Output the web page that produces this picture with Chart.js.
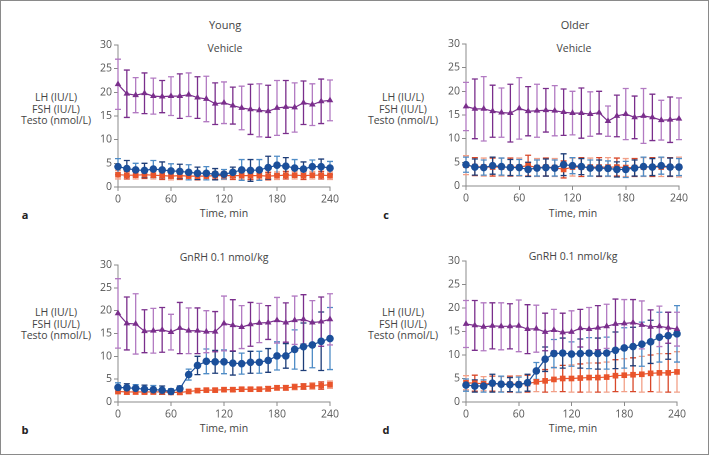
<!DOCTYPE html>
<html>
<head>
<meta charset="utf-8">
<script src="https://cdn.jsdelivr.net/npm/chart.js@4"></script>
<style>
  body { margin: 0; background: #fff; }
  #page { position: relative; width: 709px; height: 455px; box-sizing: border-box; border: 1px solid #8a8a8a; overflow: hidden;
          font-family: "Open Sans", "Noto Sans", sans-serif; color: #444; }
  canvas { position: absolute; }
  .txt { position: absolute; font-size: 10.5px; white-space: nowrap; transform: translate(-50%, -50%); line-height: 11.5px; text-align: center; }
  .letter { position: absolute; font-size: 11px; font-weight: bold; color: #222; transform: translate(-50%, -50%); }
</style>
</head>
<body>
<div id="page">
  <div class="txt" style="left:224px;top:24px;font-size:11px">Young</div>
  <div class="txt" style="left:574px;top:24px;font-size:11px">Older</div>

  <div class="txt" style="left:224px;top:48px">Vehicle</div>
  <div class="txt" style="left:573px;top:48px">Vehicle</div>
  <div class="txt" style="left:223px;top:257px">GnRH 0.1 nmol/kg</div>
  <div class="txt" style="left:572px;top:256px">GnRH 0.1 nmol/kg</div>

  <div class="txt" style="left:55px;top:108px">LH (IU/L)<br>FSH (IU/L)<br>Testo (nmol/L)</div>
  <div class="txt" style="left:402px;top:108px">LH (IU/L)<br>FSH (IU/L)<br>Testo (nmol/L)</div>
  <div class="txt" style="left:55px;top:323px">LH (IU/L)<br>FSH (IU/L)<br>Testo (nmol/L)</div>
  <div class="txt" style="left:402px;top:323px">LH (IU/L)<br>FSH (IU/L)<br>Testo (nmol/L)</div>

  <div class="txt" style="left:223px;top:213px">Time, min</div>
  <div class="txt" style="left:572px;top:213px">Time, min</div>
  <div class="txt" style="left:223px;top:428px">Time, min</div>
  <div class="txt" style="left:572px;top:428px">Time, min</div>

  <div class="letter" style="left:24px;top:213px">a</div>
  <div class="letter" style="left:24px;top:428px">b</div>
  <div class="letter" style="left:385px;top:213px">c</div>
  <div class="letter" style="left:385px;top:428px">d</div>

  <canvas id="chartA"></canvas>
  <canvas id="chartB"></canvas>
  <canvas id="chartC"></canvas>
  <canvas id="chartD"></canvas>
</div>
<script>
const times = [0, 10, 20, 30, 40, 50, 60, 70, 80, 90, 100, 110, 120, 130, 140, 150, 160, 170, 180, 190, 200, 210, 220, 230, 240];

// a: young, vehicle
const testoA   = [21.7, 19.7, 19.4, 19.8, 19.2, 19.1, 19.2, 19.2, 19.5, 18.9, 18.6, 17.6, 17.8, 17.2, 16.7, 16.4, 16.2, 16.0, 16.7, 16.9, 16.8, 17.8, 17.4, 18.1, 18.3];
const testoA_sd = [5.3, 5.0, 3.7, 4.3, 3.8, 3.4, 4.1, 4.7, 4.6, 4.4, 4.8, 4.4, 4.4, 3.9, 4.6, 5.3, 5.6, 5.5, 5.8, 5.6, 5.2, 4.6, 4.4, 4.7, 4.3];
const lhA      = [4.3, 3.9, 3.6, 3.5, 3.8, 3.6, 3.4, 3.3, 3.1, 2.9, 2.9, 2.7, 2.7, 3.1, 3.6, 3.5, 3.6, 4.1, 4.6, 4.4, 4.0, 3.8, 4.3, 4.3, 4.0];
const lhA_sd   = [1.7, 1.7, 1.4, 1.5, 1.8, 1.7, 1.5, 1.5, 1.6, 1.3, 1.4, 1.2, 1.0, 1.1, 2.2, 2.3, 2.2, 2.4, 1.9, 1.8, 1.8, 1.5, 1.4, 1.6, 1.4];
const fshA     = [2.6, 2.5, 2.5, 2.6, 2.5, 2.4, 2.3, 2.4, 2.3, 2.3, 2.3, 2.4, 2.4, 2.4, 2.4, 2.4, 2.4, 2.3, 2.4, 2.5, 2.5, 2.4, 2.5, 2.5, 2.4];
const fshA_sd  = [0.9, 0.8, 0.8, 0.8, 0.8, 0.8, 0.8, 0.8, 0.8, 0.8, 0.8, 0.8, 0.8, 0.8, 0.8, 0.8, 0.8, 0.8, 0.8, 0.8, 0.8, 0.8, 0.8, 0.8, 0.8];

// b: young, GnRH
const testoB   = [19.4, 17.2, 17.1, 15.5, 15.6, 15.8, 15.3, 16.2, 15.6, 15.6, 15.4, 15.4, 17.2, 16.8, 16.4, 17.0, 17.3, 17.4, 17.9, 17.4, 17.9, 18.1, 17.4, 17.6, 18.1];
const testoB_sd = [7.6, 5.8, 6.6, 4.7, 4.9, 4.9, 3.9, 5.6, 5.0, 5.0, 4.6, 4.4, 6.0, 5.6, 4.7, 4.8, 4.3, 3.7, 5.0, 4.3, 5.3, 5.4, 4.8, 5.4, 5.6];
const lhB      = [3.2, 3.1, 3.0, 2.8, 2.7, 2.6, 2.3, 2.9, 6.0, 8.0, 8.9, 8.8, 8.8, 8.5, 8.4, 8.7, 8.7, 9.1, 10.1, 10.1, 11.5, 12.1, 12.5, 13.3, 13.9];
const lhB_sd   = [1.0, 0.9, 0.8, 0.9, 0.9, 0.9, 0.6, 0.6, 1.2, 2.0, 2.7, 2.5, 2.6, 2.6, 2.3, 2.4, 2.4, 2.6, 3.1, 2.7, 4.3, 5.2, 5.0, 6.4, 6.8];
const fshB     = [2.3, 2.2, 2.2, 2.2, 2.2, 2.2, 2.1, 2.1, 2.3, 2.5, 2.6, 2.6, 2.7, 2.7, 2.8, 2.8, 2.8, 2.9, 3.1, 3.1, 3.3, 3.4, 3.5, 3.6, 3.8];
const fshB_sd  = [0.5, 0.5, 0.5, 0.5, 0.5, 0.5, 0.4, 0.4, 0.4, 0.4, 0.4, 0.4, 0.4, 0.4, 0.4, 0.4, 0.4, 0.5, 0.5, 0.5, 0.6, 0.6, 0.7, 0.8, 0.8];

// c: older, vehicle
const testoC   = [16.8, 16.3, 16.3, 15.8, 15.5, 15.4, 16.4, 15.8, 15.9, 16.0, 15.9, 15.6, 15.4, 15.4, 15.2, 15.5, 13.7, 14.8, 15.2, 14.5, 14.8, 14.5, 13.9, 14.0, 14.2];
const testoC_sd = [5.1, 6.3, 6.8, 5.5, 5.2, 6.1, 6.5, 5.2, 5.6, 4.6, 5.3, 4.9, 4.6, 5.3, 4.7, 4.5, 3.2, 4.4, 5.4, 4.5, 5.8, 4.9, 4.2, 4.8, 4.4];
const lhC      = [4.5, 4.0, 3.9, 4.3, 4.1, 3.9, 3.9, 3.5, 3.8, 3.9, 3.8, 4.5, 4.3, 4.1, 3.8, 3.8, 3.7, 3.5, 3.5, 3.8, 4.1, 4.0, 4.3, 4.0, 4.0];
const lhC_sd   = [1.6, 1.7, 1.6, 1.8, 1.8, 1.7, 1.7, 1.5, 1.7, 1.8, 1.7, 2.3, 1.7, 1.7, 1.7, 1.7, 1.6, 1.6, 1.7, 1.7, 2.0, 1.8, 1.8, 1.9, 1.8];
const fshC     = [4.4, 4.1, 4.0, 4.0, 4.0, 4.0, 4.0, 4.3, 3.9, 4.0, 3.9, 3.5, 4.0, 4.0, 4.0, 4.0, 4.0, 4.0, 3.9, 3.9, 4.0, 4.0, 4.0, 4.0, 4.0];
const fshC_sd  = [2.0, 1.9, 1.9, 1.9, 1.9, 1.9, 1.9, 2.2, 1.9, 1.9, 1.9, 1.8, 1.9, 2.0, 1.9, 2.0, 2.0, 1.9, 1.9, 1.9, 2.0, 2.0, 2.0, 2.0, 2.1];

// d: older, GnRH
const testoD   = [16.6, 16.3, 16.0, 16.2, 16.1, 16.1, 16.2, 15.5, 15.6, 14.9, 15.3, 14.8, 14.9, 15.7, 15.5, 15.8, 16.1, 16.6, 16.7, 16.9, 16.4, 16.0, 16.1, 15.8, 15.5];
const testoD_sd = [5.0, 5.3, 5.1, 4.9, 5.0, 4.8, 5.5, 5.2, 5.0, 4.0, 4.4, 4.1, 4.5, 4.0, 4.6, 4.7, 4.7, 5.3, 5.1, 4.9, 5.1, 3.6, 4.3, 3.3, 3.6];
const lhD      = [3.6, 3.4, 3.4, 4.0, 3.8, 3.7, 3.7, 4.1, 6.6, 9.1, 10.3, 10.4, 10.2, 10.3, 10.4, 10.3, 10.4, 11.0, 11.5, 11.8, 12.3, 12.8, 13.8, 14.1, 14.5];
const lhD_sd   = [1.3, 1.3, 1.3, 1.9, 1.7, 1.5, 1.6, 1.8, 1.8, 2.6, 3.0, 3.2, 2.6, 3.1, 3.3, 3.3, 3.4, 3.9, 4.3, 4.1, 4.7, 4.6, 5.3, 5.0, 6.0];
const fshD     = [4.1, 4.0, 3.9, 3.9, 3.8, 3.8, 3.8, 3.9, 4.3, 4.5, 4.8, 5.0, 5.0, 5.1, 5.2, 5.2, 5.3, 5.6, 5.7, 5.8, 5.9, 6.1, 6.2, 6.2, 6.4];
const fshD_sd  = [1.5, 1.7, 1.5, 1.6, 1.6, 1.7, 1.8, 1.8, 2.1, 2.4, 2.6, 2.8, 2.9, 3.0, 3.1, 3.1, 3.2, 3.4, 3.5, 3.6, 3.8, 3.9, 4.1, 4.1, 4.3];

const errorBars = {
    id: 'errorBars',
    beforeDatasetsDraw(chart) {
        const ctx = chart.ctx;
        const y = chart.scales.y;
        ctx.save();
        // last dataset first, so the top series' whiskers sit on top
        for (let di = chart.data.datasets.length - 1; di >= 0; di--) {
            const ds = chart.data.datasets[di];
            const meta = chart.getDatasetMeta(di);
            meta.data.forEach((pt, i) => {
                const v = ds.data[i].y, e = ds.sd[i];
                const top = y.getPixelForValue(v + e);
                const bot = y.getPixelForValue(Math.max(0, v - e));
                ctx.strokeStyle = i % 2 ? ds.dark : ds.light;
                ctx.lineWidth = 1.3;
                ctx.beginPath();
                ctx.moveTo(pt.x, top); ctx.lineTo(pt.x, bot);
                ctx.moveTo(pt.x - 3, top); ctx.lineTo(pt.x + 3, top);
                ctx.moveTo(pt.x - 3, bot); ctx.lineTo(pt.x + 3, bot);
                ctx.stroke();
            });
        }
        ctx.restore();
    }
};

function series(vals, sd, color, light, dark, style, radius) {
    return {
        data: times.map((t, i) => ({ x: t, y: vals[i] })),
        sd: sd,
        light: light,
        dark: dark,
        borderColor: color,
        backgroundColor: color,
        borderWidth: 1.2,
        pointStyle: style,
        pointRadius: radius,
        pointBorderWidth: 0,
        tension: 0,
        clip: false
    };
}

function makePanel(id, box, testo, testoSd, lh, lhSd, fsh, fshSd) {
    const yAxisW = 35, xAxisH = 22, padTop = 10, padRight = 15;
    const canvas = document.getElementById(id);
    const w = yAxisW + (box.x1 - box.x0) + padRight;
    const h = padTop + (box.yBot - box.yTop) + xAxisH;
    canvas.style.left = (box.x0 - yAxisW - 1) + 'px';
    canvas.style.top = (box.yTop - padTop - 1) + 'px';
    canvas.width = w; canvas.height = h;

    new Chart(canvas, {
        type: 'line',
        data: {
            datasets: [
                series(testo, testoSd, '#7a2e8c', '#b27ac2', '#7a2e8c', 'triangle', 3.8),
                series(lh, lhSd, '#1b4f9a', '#4f8cc6', '#1d3d78', 'circle', 3.8),
                series(fsh, fshSd, '#e9542b', '#f2a088', '#d8482a', 'rect', 4)
            ]
        },
        options: {
            responsive: false,
            devicePixelRatio: 2,
            animation: false,
            layout: { padding: { top: padTop, right: padRight, left: 0, bottom: 0 } },
            plugins: { legend: { display: false }, tooltip: { enabled: false } },
            scales: {
                x: {
                    type: 'linear', min: 0, max: 240,
                    afterFit: s => { s.height = xAxisH; },
                    ticks: { stepSize: 60, color: '#555', font: { family: 'Open Sans', size: 10.5 }, padding: 2, maxRotation: 0 },
                    grid: { drawOnChartArea: false, drawTicks: true, tickLength: 4, color: '#8a8a8a' },
                    border: { color: '#8a8a8a' }
                },
                y: {
                    min: 0, max: 30,
                    afterFit: s => { s.width = yAxisW; },
                    ticks: { stepSize: 5, color: '#555', font: { family: 'Open Sans', size: 10.5 }, padding: 2 },
                    grid: { drawOnChartArea: false, drawTicks: true, tickLength: 4, color: '#8a8a8a' },
                    border: { color: '#8a8a8a' }
                }
            }
        },
        plugins: [errorBars]
    });
}

makePanel('chartA', { x0: 118, x1: 330, yTop: 45, yBot: 187 }, testoA, testoA_sd, lhA, lhA_sd, fshA, fshA_sd);
makePanel('chartC', { x0: 466, x1: 679, yTop: 44, yBot: 186 }, testoC, testoC_sd, lhC, lhC_sd, fshC, fshC_sd);
makePanel('chartB', { x0: 118, x1: 330, yTop: 265, yBot: 402 }, testoB, testoB_sd, lhB, lhB_sd, fshB, fshB_sd);
makePanel('chartD', { x0: 466, x1: 677, yTop: 261, yBot: 402 }, testoD, testoD_sd, lhD, lhD_sd, fshD, fshD_sd);
</script>
</body>
</html>
